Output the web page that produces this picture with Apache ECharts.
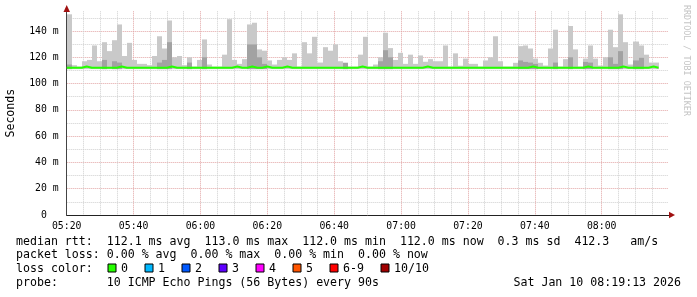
<!DOCTYPE html>
<html>
<head>
<meta charset="utf-8">
<script src="https://cdn.jsdelivr.net/npm/echarts@6/dist/echarts.min.js"></script>
<style>
html, body { margin: 0; padding: 0; background: #fff; }
#chart { width: 697px; height: 297px; }
</style>
</head>
<body>
<div id="chart"></div>
<script>
// 起始时间 05:20，每 90s 一个样本
var startMin = 5 * 60 + 20;
var stepMin = 1.5;
var smokeFloor = 111;

// 烟雾上沿 (ms)
var smokeMax = [
    152.7, 114, 113, 117, 118, 129, 117, 131.5, 124.7, 133,
    145, 121, 131, 118, 115, 115, 114, 121, 136, 126.7,
    148, 120, 121, 114, 120, 113, 118, 133.6, 114.5, 113,
    113, 122, 149, 118, 115, 118.6, 145, 146.3, 126, 125,
    117.6, 114.5, 118, 120, 118, 123, 113, 131.5, 123, 135.6,
    116, 127.7, 125, 129.8, 117, 115.8, 113, 113, 122, 135.6,
    113, 114.5, 120, 138.7, 127, 118, 123.4, 115, 122, 115,
    121.4, 116.6, 118.6, 117, 117, 129, 113, 123, 113.6, 119,
    115, 115, 113, 117.6, 120, 136, 117, 113, 113, 115.8,
    128.5, 129, 126.7, 119, 115.8, 113.7, 126.7, 141, 113, 118.6,
    143.8, 126, 113, 119, 129, 119, 113.7, 120, 141, 127.7,
    152.7, 131.5, 114.5, 132, 129, 122, 116, 116
];

// 深色烟雾上沿 (ms)，null = 无
var smokeInner = [
    114.5, null, null, null, null, null, null, 118, null, 117,
    116, null, null, null, null, null, null, null, 116, 118,
    131.5, null, null, null, 116, null, null, 120, null, null,
    null, null, null, null, null, null, 129.8, 129.8, 120, 115,
    null, null, null, null, null, null, null, null, null, null,
    null, null, null, null, null, 115.8, null, null, null, null,
    null, null, 117, 125.4, 120, null, null, null, null, null,
    null, null, null, null, null, null, null, null, null, null,
    null, null, null, null, null, null, null, null, null, null,
    117.6, 116.5, 116, 115, null, null, null, 116, null, null,
    120, null, null, 116.5, 116, null, null, null, 120, 115,
    124.7, null, null, 117.6, 119.6, null, null, null
];

// 中位数 (ms)
var medianRtt = [
    112, 112, 112, 113, 112, 112, 112, 112, 112, 112,
    113, 112, 112, 112, 112, 112, 112, 112, 112, 112,
    113, 112, 112, 112, 112, 112, 112, 112, 112, 112,
    112, 112, 112, 113, 112, 112, 113, 112, 112, 113,
    112, 112, 112, 113, 112, 112, 112, 112, 112, 112,
    112, 112, 112, 112, 112, 112, 112, 112, 113, 112,
    112, 112, 112, 112, 112, 112, 112, 112, 112, 112,
    112, 113, 112, 112, 112, 112, 112, 112, 112, 112,
    112, 112, 112, 112, 112, 112, 112, 112, 112, 112,
    112, 112, 113, 112, 112, 112, 112, 112, 112, 112,
    112, 112, 112, 113, 112, 112, 112, 112, 112, 112,
    113, 112, 112, 112, 112, 112, 113, 112
];

var lossColors = ['#26ff00', '#00b8ff', '#0059ff', '#5e00ff', '#ff00ff', '#ff5500', '#ff0000', '#a00000'];
var lossLabels = ['0', '1', '2', '3', '4', '5', '6-9', '10/10'];

var statLines = [
    'median rtt:  112.1 ms avg  113.0 ms max  112.0 ms min  112.0 ms now  0.3 ms sd  412.3   am/s',
    'packet loss: 0.00 % avg  0.00 % max  0.00 % min  0.00 % now'
];
var probeLine = 'probe:       10 ICMP Echo Pings (56 Bytes) every 90s';
var stampText = 'Sat Jan 10 08:19:13 2026';

var MONO = '"DejaVu Sans Mono", monospace';

function pad2 (n) {
    return (n < 10 ? '0' : '') + n;
}

// 组装数据
var lightData = [];
var darkData = [];
var medianData = [];
smokeMax.forEach(function (v, i) {
    var x = i * stepMin;
    lightData.push([x, smokeFloor, v]);
    if (smokeInner[i] != null) {
        darkData.push([x, smokeFloor, smokeInner[i]]);
    }
    medianData.push([x, medianRtt[i]]);
});
medianData.push([smokeMax.length * stepMin, medianRtt[medianRtt.length - 1]]);

function smokeRender (color) {
    return function (params, api) {
        var x0 = api.value(0);
        var p1 = api.coord([x0, api.value(2)]);
        var p2 = api.coord([x0 + stepMin, api.value(1)]);
        var l = Math.round(p1[0]);
        var r = Math.round(p2[0]);
        return {
            type: 'rect',
            shape: {x: l, y: p1[1], width: r - l, height: p2[1] - p1[1]},
            style: {fill: color}
        };
    };
}

// 底部文字
var graphics = [];
statLines.forEach(function (t, i) {
    graphics.push({
        type: 'text', left: 16, top: 235.5 + i * 13.5,
        style: {text: t, font: '11.6px ' + MONO, fill: '#000'}
    });
});
graphics.push({
    type: 'text', left: 16, top: 262.5,
    style: {text: 'loss color:', font: '11.6px ' + MONO, fill: '#000'}
});
var lx = 108;
lossLabels.forEach(function (lab, i) {
    graphics.push({
        type: 'rect', shape: {x: lx, y: 264, width: 8, height: 8},
        style: {fill: lossColors[i], stroke: '#000', lineWidth: 1}
    });
    graphics.push({
        type: 'text', x: lx + 13, y: 262.5,
        style: {text: lab, font: '11.6px ' + MONO, fill: '#000'}
    });
    lx += 30 + 7 * lab.length;
});
graphics.push({
    type: 'text', left: 16, top: 277,
    style: {text: probeLine, font: '11.6px ' + MONO, fill: '#000'}
});
graphics.push({
    type: 'text', right: 16, top: 277,
    style: {text: stampText, font: '11.6px ' + MONO, fill: '#000'}
});
// 水印
graphics.push({
    type: 'text', x: 690, y: 5, rotation: -Math.PI / 2,
    style: {text: 'RRDTOOL / TOBI OETIKER', font: '8.4px ' + MONO, fill: '#c4c4c4'}
});
// 坐标轴箭头
graphics.push({
    type: 'polygon', shape: {points: [[63.5, 12], [70, 12], [66.7, 5]]},
    style: {fill: '#a01010'}, z: 100
});
graphics.push({
    type: 'polygon', shape: {points: [[669, 211.8], [669, 218.2], [675, 215]]},
    style: {fill: '#a01010'}, z: 100
});

var option = {
    animation: false,
    backgroundColor: '#fff',
    grid: {left: 66.7, right: 28.4, top: 11.3, bottom: 82, outerBoundsMode: 'none', containLabel: false},
    xAxis: {
        type: 'value',
        min: 0,
        max: 180,
        interval: 5,
        axisLine: {show: true, lineStyle: {color: '#222', width: 1}},
        axisTick: {show: false},
        axisLabel: {
            margin: 6,
            color: '#000',
            fontFamily: MONO,
            fontSize: 9.8,
            formatter: function (v) {
                if (v % 20 !== 0 || v >= 180) return '';
                var m = startMin + v;
                return pad2(Math.floor(m / 60)) + ':' + pad2(m % 60);
            }
        },
        splitLine: {
            show: true,
            showMaxLine: false,
            lineStyle: {color: ['#e2a4a4', '#cfcfcf', '#cfcfcf', '#cfcfcf'], type: [1, 1], width: 1}
        }
    },
    yAxis: {
        type: 'value',
        min: 0,
        max: 155,
        interval: 10,
        name: 'Seconds',
        nameLocation: 'middle',
        nameRotate: 90,
        nameGap: 50,
        nameTextStyle: {fontFamily: MONO, fontSize: 11.6, color: '#000'},
        axisLine: {show: true, lineStyle: {color: '#444', width: 1}},
        axisTick: {show: false},
        axisLabel: {
            margin: 8,
            color: '#000',
            fontFamily: MONO,
            fontSize: 9.8,
            formatter: function (v) {
                if (v % 20 !== 0) return '';
                return v === 0 ? '0  ' : v + ' m';
            }
        },
        splitLine: {
            show: true,
            showMaxLine: false,
            lineStyle: {color: ['#e2a4a4', '#cfcfcf'], type: [1, 1], width: 1}
        }
    },
    series: [
        {
            type: 'custom',
            renderItem: smokeRender('#c9c9c9'),
            data: lightData,
            encode: {x: 0, y: [1, 2]},
            z: 2
        },
        {
            type: 'custom',
            renderItem: smokeRender('#a2a2a2'),
            data: darkData,
            encode: {x: 0, y: [1, 2]},
            z: 3
        },
        {
            type: 'line',
            step: 'end',
            data: medianData,
            symbol: 'none',
            lineStyle: {color: '#26ff00', width: 2},
            z: 4
        }
    ],
    graphic: graphics
};

var chart = echarts.init(document.getElementById('chart'));
chart.setOption(option);
</script>
</body>
</html>
